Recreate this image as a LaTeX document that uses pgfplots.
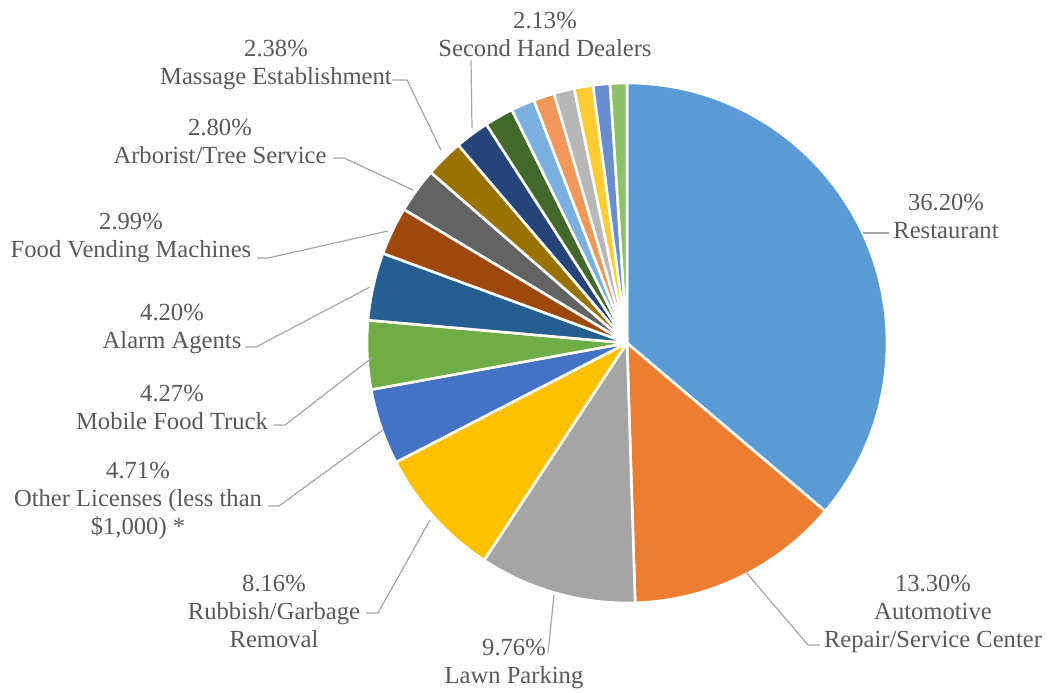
\documentclass[border=0pt]{standalone}
\usepackage{pgfplots}
\pgfplotsset{compat=1.18}
\usepackage{pgfplotstable}
\usepackage{fontspec}
\setmainfont{Liberation Serif}
\definecolor{txt}{HTML}{595959}
\definecolor{lead}{HTML}{A6A6A6}
\definecolor{c1}{HTML}{5B9BD5}
\definecolor{c2}{HTML}{ED7D31}
\definecolor{c3}{HTML}{A5A5A5}
\definecolor{c4}{HTML}{FFC000}
\definecolor{c5}{HTML}{4472C4}
\definecolor{c6}{HTML}{70AD47}
\definecolor{c7}{HTML}{255E91}
\definecolor{c8}{HTML}{9E480E}
\definecolor{c9}{HTML}{636363}
\definecolor{c10}{HTML}{997300}
\definecolor{c11}{HTML}{264478}
\definecolor{c12}{HTML}{43682B}
\definecolor{c13}{HTML}{7CAFDD}
\definecolor{c14}{HTML}{F1975A}
\definecolor{c15}{HTML}{B7B7B7}
\definecolor{c16}{HTML}{FFCD33}
\definecolor{c17}{HTML}{698ED0}
\definecolor{c18}{HTML}{8CC168}
\pgfplotstableread[col sep=comma]{
value,color
36.20,c1
13.30,c2
9.76,c3
8.16,c4
4.71,c5
4.27,c6
4.20,c7
2.99,c8
2.80,c9
2.38,c10
2.13,c11
1.80,c12
1.47,c13
1.30,c14
1.27,c15
1.17,c16
1.05,c17
1.04,c18
}\slices
\begin{document}
\begin{tikzpicture}
\begin{axis}[
  name=ax,
  x=0.5pt, y=0.5pt,
  xmin=0, xmax=1049, ymin=0, ymax=692,
  y dir=reverse,
  hide axis, clip=false,
]
\def\cum{0}
\pgfplotsforeachungrouped \i in {0,...,17} {
  \pgfplotstablegetelem{\i}{value}\of{\slices}\let\v\pgfplotsretval
  \pgfplotstablegetelem{\i}{color}\of{\slices}\let\c\pgfplotsretval
  \pgfmathsetmacro\aone{90-3.6*\cum}
  \pgfmathsetmacro\atwo{90-3.6*(\cum+\v)}
  \edef\tmp{\noexpand\fill[\c, draw=white, line width=1.3pt, line join=round] (axis cs:627,343) -- ++(\aone:130pt) arc[start angle=\aone, end angle=\atwo, radius=130pt] -- cycle;}
  \tmp
  \pgfmathsetmacro\cum{\cum+\v}
}
% leader lines
\begin{scope}[lead, line width=0.6pt]
\draw (axis cs:471,60) -- (axis cs:472,128);
\draw (axis cs:392,80) -- (axis cs:407,80) -- (axis cs:441,150);
\draw (axis cs:333,158) -- (axis cs:344,158) -- (axis cs:413,190);
\draw (axis cs:257,258) -- (axis cs:268,258) -- (axis cs:388,231);
\draw (axis cs:245,347) -- (axis cs:256,347) -- (axis cs:370,287);
\draw (axis cs:274,425) -- (axis cs:285,425) -- (axis cs:373,357);
\draw (axis cs:268,506) -- (axis cs:279,506) -- (axis cs:383,430);
\draw (axis cs:366,613) -- (axis cs:378,613) -- (axis cs:430,520);
\draw (axis cs:548,653) -- (axis cs:554,595);
\draw (axis cs:820,645) -- (axis cs:808,645) -- (axis cs:745,571);
\draw (axis cs:863,233) -- (axis cs:889,233);
\end{scope}
% labels
\begin{scope}[every node/.style={text=txt, align=center, inner sep=0pt, font=\fontsize{12.3}{14}\selectfont}]
\node at (axis cs:545,34) {2.13\%\\Second Hand Dealers};
\node at (axis cs:276,65) {2.38\%\\Massage Establishment};
\node at (axis cs:220,141) {2.80\%\\Arborist/Tree Service};
\node at (axis cs:131,238) {2.99\%\\Food Vending Machines};
\node at (axis cs:172,329) {4.20\%\\Alarm Agents};
\node at (axis cs:172,407) {4.27\%\\Mobile Food Truck};
\node at (axis cs:138,501) {4.71\%\\Other Licenses (less than\\\$1,000) *};
\node at (axis cs:274,611) {8.16\%\\Rubbish/Garbage\\Removal};
\node at (axis cs:514,664) {9.76\%\\Lawn Parking};
\node at (axis cs:933,614) {13.30\%\\Automotive\\Repair/Service Center};
\node at (axis cs:946,216) {36.20\%\\Restaurant};
\end{scope}
\end{axis}
\pgfresetboundingbox
\path (ax.south west) rectangle (ax.north east);
\end{tikzpicture}
\end{document}
